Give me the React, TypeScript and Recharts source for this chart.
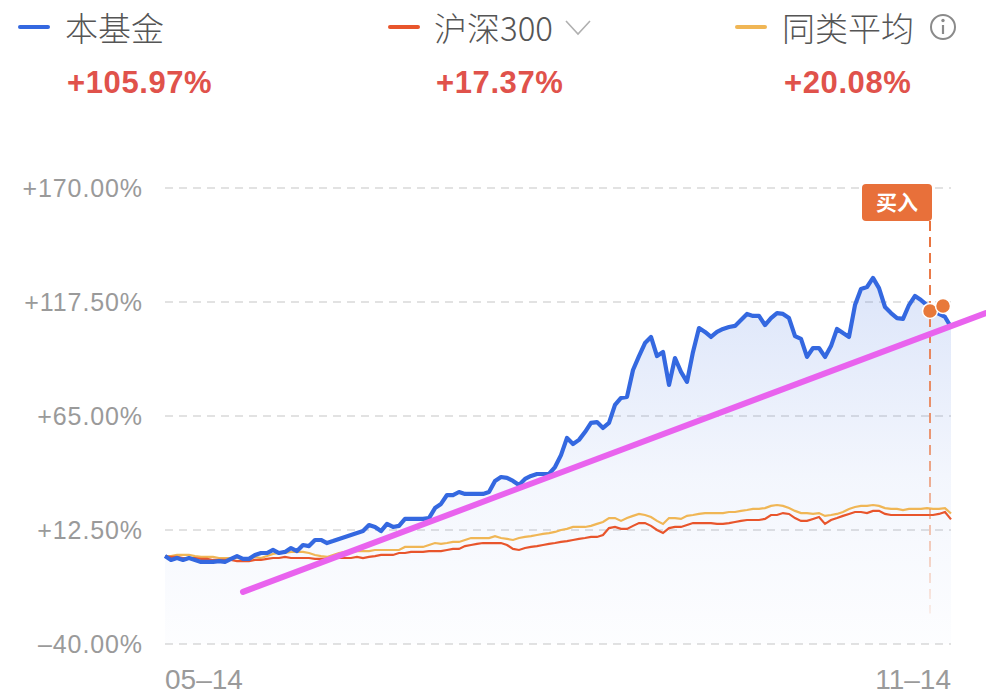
import React from 'react';
import {
  ComposedChart,
  Area,
  Line,
  XAxis,
  YAxis,
  CartesianGrid,
  ReferenceLine,
  ReferenceDot,
} from 'recharts';

// 本基金 cumulative return (%), one point per trading day
const fund = [
  0.5, -1.3, -0.4, -1.3, -0.4, -1.3, -2.2, -2.2, -2.2, -1.8,
  -2.2, -0.8, 0.5, -0.8, -0.8, 1.0, 1.9, 1.9, 3.3, 1.9,
  2.4, 4.2, 2.8, 5.6, 5.1, 7.9, 7.9, 6.5, 7.4, 8.4,
  9.3, 10.2, 11.1, 12.0, 14.8, 13.9, 12.0, 15.3, 13.9, 14.4,
  17.6, 17.6, 17.6, 17.6, 18.0, 22.6, 24.5, 28.6, 28.6, 30.0,
  29.1, 29.1, 29.1, 29.1, 30.0, 35.1, 36.9, 36.5, 35.1, 33.2,
  36.0, 37.4, 38.3, 38.3, 38.3, 41.5, 47.0, 54.9, 52.1, 54.0,
  57.6, 61.8, 62.2, 59.5, 61.8, 70.1, 73.3, 73.8, 86.2, 92.6,
  98.6, 101.4, 92.6, 94.5, 79.3, 91.7, 85.3, 80.7, 94.5, 105.5,
  103.7, 101.4, 103.7, 105.1, 106.0, 106.5, 109.2, 112.0, 111.1, 111.1,
  106.9, 110.1, 112.4, 112.0, 110.1, 101.8, 100.5, 92.2, 96.3, 96.3,
  92.2, 97.2, 105.1, 103.2, 101.4, 116.1, 123.5, 124.4, 128.6, 123.9,
  115.2, 112.4, 110.1, 109.7, 116.1, 120.3, 118.4, 116.1, 113.4, 112.0,
  110.6, 106.0,
];

// 沪深300 cumulative return (%)
const hs300 = [
  0.1, 0.1, 0.1, -0.4, -0.4, -0.4, -0.8, -0.8, -1.3, -1.3,
  -1.3, -1.3, -1.8, -1.8, -1.8, -1.3, -1.3, -0.8, -0.4, -0.4,
  0.1, -0.4, -0.4, -0.4, -0.4, -0.8, -0.8, -0.8, -0.4, -0.4,
  -0.4, -0.4, 0.1, -0.4, 0.1, 0.5, 1.0, 1.0, 1.0, 1.9,
  1.9, 2.4, 2.4, 2.4, 2.8, 2.8, 2.8, 3.3, 3.8, 3.8,
  5.1, 5.6, 6.1, 6.5, 6.5, 6.5, 6.5, 5.6, 3.8, 3.3,
  4.2, 4.7, 5.1, 5.6, 6.1, 6.5, 7.0, 7.4, 7.9, 8.4,
  8.8, 9.3, 9.3, 10.2, 13.4, 13.9, 13.0, 13.0, 14.4, 15.7,
  15.7, 14.4, 12.5, 11.1, 13.4, 13.9, 13.9, 14.8, 15.7, 15.7,
  15.7, 15.7, 15.3, 15.3, 15.7, 16.2, 16.7, 17.1, 17.1, 17.1,
  17.6, 19.4, 19.4, 20.3, 19.9, 18.0, 16.7, 16.7, 17.6, 18.5,
  15.3, 17.1, 18.0, 19.0, 19.9, 20.8, 20.8, 20.3, 21.3, 21.3,
  19.9, 19.4, 19.4, 19.4, 19.4, 19.4, 19.4, 19.4, 19.4, 19.9,
  20.8, 17.4,
];

// 同类平均 cumulative return (%)
const peer = [
  0.5, 0.5, 1.0, 1.0, 1.0, 0.5, 0.1, 0.1, 0.1, -0.4,
  -0.4, -0.4, -0.4, -0.8, -0.8, 0.1, -0.4, 0.5, 1.5, 1.9,
  1.9, 2.4, 2.4, 2.4, 1.9, 1.0, 0.5, 0.1, 1.0, 1.9,
  2.4, 2.4, 2.8, 2.8, 2.8, 3.3, 3.3, 3.3, 3.3, 3.3,
  4.7, 4.7, 4.7, 4.7, 5.6, 6.5, 6.1, 6.5, 7.0, 7.0,
  7.9, 8.8, 8.8, 8.8, 8.8, 9.7, 8.8, 8.4, 7.9, 8.8,
  9.3, 9.7, 10.2, 10.7, 11.1, 11.6, 12.5, 13.0, 13.9, 13.9,
  13.9, 14.4, 15.3, 16.2, 18.0, 18.0, 16.7, 18.0, 19.0, 19.9,
  19.4, 18.5, 16.7, 15.3, 18.0, 18.0, 17.6, 19.0, 19.4, 19.9,
  20.3, 20.3, 20.3, 20.3, 20.8, 20.8, 21.3, 21.7, 22.2, 22.2,
  22.6, 23.6, 24.0, 23.6, 22.6, 21.3, 20.3, 20.3, 19.9, 20.3,
  19.0, 19.4, 19.9, 20.8, 22.2, 23.1, 23.6, 23.6, 24.0, 23.6,
  22.6, 22.2, 22.2, 21.7, 22.2, 22.2, 22.2, 22.6, 22.2, 22.2,
  22.6, 20.1,
];

const xTickIndex = [0, 131];
const xTickLabels = ['05–14', '11–14'];
const yTicks = [-40, 12.5, 65, 117.5, 170];
const yTickLabels = ['–40.00%', '+12.50%', '+65.00%', '+117.50%', '+170.00%'];

const legendNames = ['本基金', '沪深300', '同类平均'];
const legendReturns = ['+105.97%', '+17.37%', '+20.08%'];
const legendColors = ['#3468e0', '#e8552c', '#f0b655'];

const trendStart = { x: 13, y: -16 };
const trendEnd = { x: 136.8, y: 112.4 };
const buyIndex = 127.5;
const buyTop = 154.8;
const buyBottom = -26;
const buyDots = [
  { x: 127.5, y: 113.4 },
  { x: 129.67, y: 115.7 },
];

const data = fund.map((v, i) => ({ i, fund: v, hs300: hs300[i], peer: peer[i] }));

const W = 986;
const H = 698;

const XTick = (props: any) => {
  const { x, y, payload } = props;
  const k = xTickIndex.indexOf(payload.value);
  return (
    <text
      x={x}
      y={y + 45}
      textAnchor={k === 0 ? 'start' : 'end'}
      fill="#9a9a9a"
      fontSize={28}
      fontFamily="'Liberation Sans', Arial, sans-serif"
    >
      {xTickLabels[k]}
    </text>
  );
};

const YTick = (props: any) => {
  const { y, payload } = props;
  const k = yTicks.indexOf(payload.value);
  return (
    <text
      x={143}
      y={y}
      dy="0.36em"
      textAnchor="end"
      fill="#9a9a9a"
      fontSize={25}
      letterSpacing={0.9}
      fontFamily="'Liberation Sans', Arial, sans-serif"
    >
      {yTickLabels[k]}
    </text>
  );
};

const BuyLabel = (props: any) => {
  const { cx, cy } = props;
  const w = 70;
  const h = 37;
  const left = cx - w + 2;
  const top = cy - h;
  return (
    <g>
      <rect x={left} y={top} width={w} height={h} rx={4} ry={4} fill="#e8703a" />
      <text
        x={left + w / 2}
        y={top + h / 2}
        dy="0.36em"
        textAnchor="middle"
        fill="#ffffff"
        fontSize={21}
        fontWeight={600}
        fontFamily="'Noto Sans CJK SC', sans-serif"
      >
        买入
      </text>
    </g>
  );
};

const textBase: React.CSSProperties = {
  position: 'absolute',
  whiteSpace: 'nowrap',
  height: 40,
  lineHeight: '40px',
};

export default function App() {
  const nameLeft = [65, 434, 782];
  const swatchLeft = [18, 388, 735];
  return (
    <div
      style={{
        position: 'absolute',
        left: 0,
        top: 0,
        width: W,
        height: H,
        background: '#ffffff',
        overflow: 'hidden',
      }}
    >
      {legendNames.map((name, k) => (
        <React.Fragment key={name}>
          <div
            style={{
              position: 'absolute',
              left: swatchLeft[k],
              top: 25,
              width: 32,
              height: 4,
              borderRadius: 2,
              background: legendColors[k],
            }}
          />
          <div
            style={{
              ...textBase,
              left: nameLeft[k],
              top: 7,
              fontSize: 33,
              color: '#555555',
              fontFamily: "'Noto Sans CJK SC', sans-serif",
              fontWeight: 300,
            }}
          >
            {name}
          </div>
          <div
            style={{
              ...textBase,
              left: nameLeft[k] + 2,
              top: 63,
              fontSize: 31,
              color: '#e0524b',
              fontFamily: "'Liberation Sans', Arial, sans-serif",
              fontWeight: 700,
              letterSpacing: 0.6,
            }}
          >
            {legendReturns[k]}
          </div>
        </React.Fragment>
      ))}
      <svg
        style={{ position: 'absolute', left: 0, top: 0 }}
        width={W}
        height={60}
      >
        <polyline
          points="566,21 578,34 590,21"
          fill="none"
          stroke="#b0b0b0"
          strokeWidth={1.6}
        />
        <circle cx={943} cy={27} r={12} fill="none" stroke="#8a8a8a" strokeWidth={2} />
        <circle cx={943} cy={20.5} r={1.7} fill="#8a8a8a" />
        <line x1={943} y1={25} x2={943} y2={34} stroke="#8a8a8a" strokeWidth={2.2} />
      </svg>

      <div style={{ position: 'absolute', left: 0, top: 0 }}>
        <ComposedChart
          width={W}
          height={H}
          data={data}
          margin={{ top: 188, right: 35, bottom: 0, left: 0 }}
        >
          <defs>
            <linearGradient id="fundFill" x1="0" y1="0" x2="0" y2="1">
              <stop offset="0%" stopColor="#3d6fe0" stopOpacity={0.3} />
              <stop offset="55%" stopColor="#3d6fe0" stopOpacity={0.1} />
              <stop offset="100%" stopColor="#3d6fe0" stopOpacity={0.02} />
            </linearGradient>
            <linearGradient
              id="buyGrad"
              gradientUnits="userSpaceOnUse"
              x1="0"
              y1="221"
              x2="0"
              y2="615"
            >
              <stop offset="0%" stopColor="#e8703a" stopOpacity={1} />
              <stop offset="55%" stopColor="#e8703a" stopOpacity={0.7} />
              <stop offset="100%" stopColor="#e8703a" stopOpacity={0.1} />
            </linearGradient>
          </defs>
          <CartesianGrid
            horizontal
            vertical={false}
            stroke="#e2e2e2"
            strokeWidth={2}
            strokeDasharray="8 6"
          />
          <XAxis
            dataKey="i"
            type="number"
            domain={[0, 131]}
            ticks={xTickIndex}
            interval={0}
            axisLine={false}
            tickLine={false}
            tickSize={0}
            tickMargin={0}
            height={54}
            tick={<XTick />}
          />
          <YAxis
            type="number"
            domain={[-40, 170]}
            ticks={yTicks}
            interval={0}
            axisLine={false}
            tickLine={false}
            tickSize={0}
            width={165}
            tick={<YTick />}
          />
          <Area
            dataKey="fund"
            type="linear"
            stroke="none"
            fill="url(#fundFill)"
            baseValue="dataMin"
            isAnimationActive={false}
            dot={false}
            activeDot={false}
          />
          <Line
            dataKey="peer"
            type="linear"
            stroke="#f0b655"
            strokeWidth={2.2}
            dot={false}
            activeDot={false}
            isAnimationActive={false}
          />
          <Line
            dataKey="hs300"
            type="linear"
            stroke="#e8552c"
            strokeWidth={2.2}
            dot={false}
            activeDot={false}
            isAnimationActive={false}
          />
          <Line
            dataKey="fund"
            type="linear"
            stroke="#3468e0"
            strokeWidth={4.2}
            strokeLinejoin="round"
            dot={false}
            activeDot={false}
            isAnimationActive={false}
          />
          <ReferenceLine
            segment={[
              { x: buyIndex, y: buyTop },
              { x: buyIndex, y: buyBottom },
            ]}
            stroke="url(#buyGrad)"
            strokeWidth={2}
            strokeDasharray="10 6"
            ifOverflow="visible"
          />
          <ReferenceLine
            segment={[trendStart, trendEnd]}
            stroke="#e963ee"
            strokeWidth={6}
            strokeLinecap="round"
            ifOverflow="visible"
          />
          <ReferenceDot
            x={buyIndex}
            y={buyTop}
            r={1}
            ifOverflow="visible"
            shape={(p: any) => <BuyLabel {...p} />}
          />
          {buyDots.map((d, k) => (
            <ReferenceDot
              key={k}
              x={d.x}
              y={d.y}
              r={7.5}
              fill="#e8793a"
              stroke="#ffffff"
              strokeWidth={1.5}
              ifOverflow="visible"
            />
          ))}
        </ComposedChart>
      </div>
    </div>
  );
}
